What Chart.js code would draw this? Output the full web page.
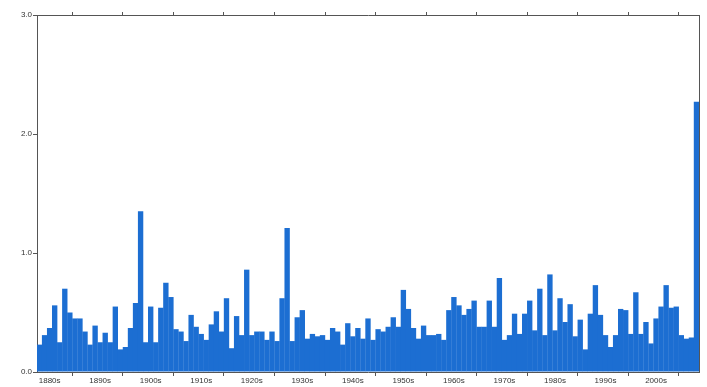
<!DOCTYPE html>
<html>
<head>
<meta charset="utf-8">
<script src="https://cdn.jsdelivr.net/npm/chart.js@4.4.1/dist/chart.umd.min.js"></script>
<style>
  html, body { margin: 0; padding: 0; background: #fff; }
  #wrap { width: 707px; height: 387px; }
</style>
</head>
<body>
<div id="wrap"><canvas id="BarCanvas"></canvas></div>
<script>
// years on the x axis, one bar each
const firstYear = 1883
const lastYear = 2013
const years = []
for (let y = firstYear; y <= lastYear; y++) years.push(y)

// bar heights, 1883 .. 2013
const values = [
  0.23, 0.31, 0.37, 0.56, 0.25, 0.70, 0.50, 0.45, 0.45, 0.34,
  0.23, 0.39, 0.25, 0.33, 0.25, 0.55, 0.19, 0.21, 0.37, 0.58,
  1.35, 0.25, 0.55, 0.25, 0.54, 0.75, 0.63, 0.36, 0.34, 0.26,
  0.48, 0.38, 0.32, 0.27, 0.40, 0.51, 0.34, 0.62, 0.20, 0.47,
  0.31, 0.86, 0.31, 0.34, 0.34, 0.27, 0.34, 0.26, 0.62, 1.21,
  0.26, 0.46, 0.52, 0.28, 0.32, 0.30, 0.31, 0.27, 0.37, 0.34,
  0.23, 0.41, 0.30, 0.37, 0.28, 0.45, 0.27, 0.36, 0.34, 0.38,
  0.46, 0.38, 0.69, 0.53, 0.37, 0.28, 0.39, 0.31, 0.31, 0.32,
  0.27, 0.52, 0.63, 0.56, 0.48, 0.53, 0.60, 0.38, 0.38, 0.60,
  0.38, 0.79, 0.27, 0.31, 0.49, 0.32, 0.49, 0.60, 0.35, 0.70,
  0.31, 0.82, 0.35, 0.62, 0.42, 0.57, 0.30, 0.44, 0.19, 0.49,
  0.73, 0.48, 0.31, 0.21, 0.31, 0.53, 0.52, 0.32, 0.67, 0.32,
  0.42, 0.24, 0.45, 0.55, 0.73, 0.54, 0.55, 0.31, 0.28, 0.29,
  2.27
]

// decade labels shown under the middle of each decade
const decadeLabels = ['1880s','1890s','1900s','1910s','1920s','1930s','1940s','1950s','1960s','1970s','1980s','1990s','2000s']
const yTicks = [0, 1, 2, 3]

const axisColor = '#555'
const textColor = '#333'
const barColor = '#1c6ed2'
const font = { family: "'Liberation Sans', Arial, sans-serif", size: 8 }

// tick mark only on decade boundaries (left edge of year ending in 0)
function decadeTick(ctx) {
  const yr = years[ctx.index]
  return (yr !== undefined && yr % 10 === 0) ? axisColor : 'rgba(0,0,0,0)'
}

const barCanvas = document.getElementById('BarCanvas')

new Chart(barCanvas, {
  type: 'bar',
  data: {
    labels: years,
    datasets: [{
      data: values,
      backgroundColor: barColor,
      borderWidth: 0,
      barPercentage: 1.06,   // slight overlap so no seams between bars
      categoryPercentage: 1.0,
      xAxisID: 'x',
      yAxisID: 'y'
    }]
  },
  options: {
    responsive: true,
    maintainAspectRatio: false,
    animation: false,
    layout: { padding: 0 },
    plugins: {
      legend: { display: false },
      tooltip: { enabled: false }
    },
    scales: {
      x: {
        type: 'category',
        position: 'bottom',
        offset: true,
        grid: {
          offset: true,
          drawOnChartArea: false,
          tickLength: 4,
          tickColor: decadeTick
        },
        border: { color: axisColor, width: 1 },
        ticks: {
          autoSkip: false,
          maxRotation: 0,
          minRotation: 0,
          padding: 0,
          color: textColor,
          font: font,
          callback: function (val, i) {
            const yr = years[i]
            if (yr % 10 !== 5) return ''
            const lbl = (yr - 5) + 's'
            return decadeLabels.includes(lbl) ? lbl : ''
          }
        },
        afterFit: function (scale) { scale.height = 15 }
      },
      xTop: {
        type: 'category',
        position: 'top',
        offset: true,
        labels: years,
        grid: {
          offset: true,
          drawOnChartArea: false,
          tickLength: 3,
          tickColor: decadeTick
        },
        border: { color: axisColor, width: 1 },
        ticks: { display: false },
        afterFit: function (scale) { scale.height = 15 }
      },
      y: {
        position: 'left',
        min: 0,
        max: 3,
        afterBuildTicks: function (scale) {
          scale.ticks = yTicks.map(v => ({ value: v }))
        },
        grid: {
          drawOnChartArea: false,
          tickLength: 4,
          tickColor: axisColor
        },
        border: { color: axisColor, width: 1 },
        ticks: {
          padding: 1,
          color: textColor,
          font: font,
          callback: v => Number(v).toFixed(1)
        },
        afterFit: function (scale) { scale.width = 37 }
      },
      yRight: {
        position: 'right',
        min: 0,
        max: 3,
        grid: { display: false },
        border: { color: axisColor, width: 1 },
        ticks: { display: false },
        afterFit: function (scale) { scale.width = 8 }
      }
    }
  }
})
</script>
</body>
</html>
